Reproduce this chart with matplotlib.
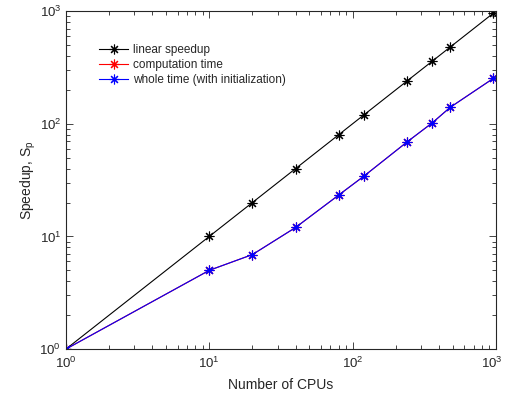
import numpy as np
import matplotlib
matplotlib.use('Agg')
import matplotlib.pyplot as plt
import matplotlib.transforms as mtransforms

plt.rcParams['font.family'] = ['Liberation Sans', 'DejaVu Sans']
plt.rcParams['mathtext.fontset'] = 'custom'
plt.rcParams['mathtext.rm'] = 'Liberation Sans'
plt.rcParams['mathtext.it'] = 'Liberation Sans'
plt.rcParams['font.size'] = 10
dark = '#262626'
plt.rcParams['text.color'] = dark
plt.rcParams['axes.labelcolor'] = dark
plt.rcParams['xtick.color'] = dark
plt.rcParams['ytick.color'] = dark
plt.rcParams['axes.edgecolor'] = dark

# number of CPUs
cpus = [1, 10, 20, 40, 80, 120, 240, 360, 480, 960]
# speedups
linear = [1, 10, 20, 40, 80, 120, 240, 360, 480, 960]
comp_time = [1, 5.0, 6.9, 12.0, 23.3, 34.3, 69, 102, 140, 253]
whole_time = [1, 5.0, 6.9, 12.0, 23.3, 34.3, 69, 102, 140, 253]

fig = plt.figure(figsize=(5.05, 3.98), dpi=100)
ax = fig.add_axes([0.1307, 0.123, 0.8513, 0.849])

star = (8, 2, 0)
ax.plot(cpus, linear, '-', marker=star, color='black', lw=0.8, ms=7, mew=0.8,
        label='linear speedup')
ax.plot(cpus, comp_time, '-', marker=star, color='red', lw=0.8, ms=7, mew=0.8,
        label='computation time')
ax.plot(cpus, whole_time, '-', marker=star, color='blue', lw=0.8, ms=7, mew=0.8,
        label='whole time (with initialization)')

ax.set_xscale('log')
ax.set_yscale('log')
ax.set_xlim(1, 1000)
ax.set_ylim(1, 1000)
ax.set_xlabel('Number of CPUs', labelpad=5)
ax.set_ylabel('Speedup, S$_\\mathrm{p}$', labelpad=1)

ax.tick_params(which='both', direction='in', top=True, right=True, width=0.6)
ax.tick_params(which='major', length=5, labelsize=9.5)
ax.tick_params(axis='x', which='major', pad=5)
ax.tick_params(which='minor', length=3)
for s in ax.spines.values():
    s.set_linewidth(0.8)

leg = ax.legend(loc='upper left', bbox_to_anchor=(0.052, 0.935), frameon=False,
                fontsize=8.5, handlelength=2.5, labelspacing=0.25, handletextpad=0.35)

# nudge the last x tick label inside the figure
fig.canvas.draw()
last = ax.get_xticklabels()[-1]
for lab in ax.get_xticklabels():
    if lab.get_position()[0] >= 999:
        lab.set_transform(lab.get_transform() +
                          mtransforms.ScaledTranslation(-3 / 72, 0, fig.dpi_scale_trans))

plt.savefig('out.png', dpi=100)
